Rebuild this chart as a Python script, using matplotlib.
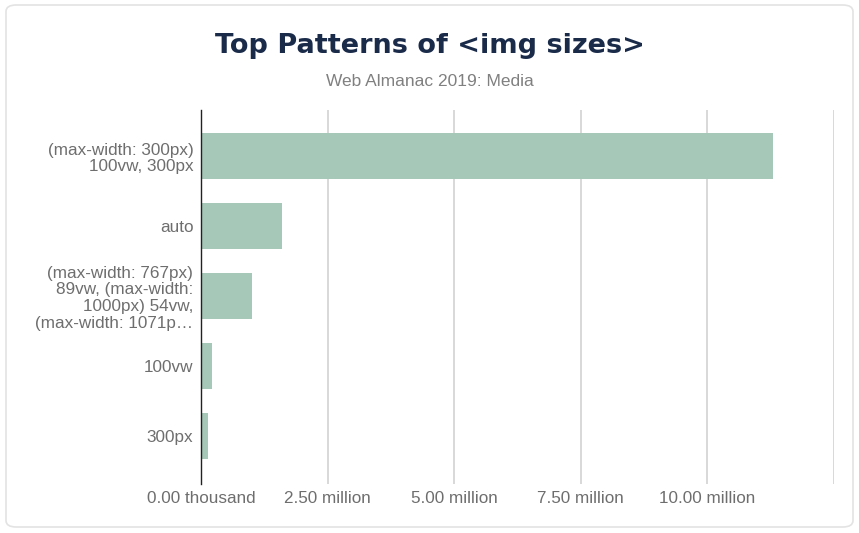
import matplotlib.pyplot as plt
from matplotlib.patches import FancyBboxPatch

plt.rcParams['font.family'] = ['Liberation Sans', 'DejaVu Sans']

labels = ['(max-width: 300px)\n100vw, 300px',
          'auto',
          '(max-width: 767px)\n89vw, (max-width:\n1000px) 54vw,\n(max-width: 1071p\u2026',
          '100vw',
          '300px']
counts = [11.29e6, 1.60e6, 1.01e6, 0.22e6, 0.14e6]
xticks = [0, 2.5e6, 5e6, 7.5e6, 10e6, 12.5e6]
xticklabels = ['0.00 thousand', '2.50 million', '5.00 million', '7.50 million', '10.00 million', '']

fig = plt.figure(figsize=(8.59, 5.33), dpi=100)

# card border
card = FancyBboxPatch((6 / 859, 6 / 533), 847 / 859, 522 / 533,
                      boxstyle='round,pad=0,rounding_size=0.012',
                      transform=fig.transFigure, facecolor='none',
                      edgecolor='#e3e3e3', linewidth=1.2, zorder=-1)
fig.patches.append(card)

ax = fig.add_axes([201 / 859, 49 / 533, 633 / 859, 374 / 533])
ax.set_facecolor('none')

y = list(range(len(labels)))
ax.barh(y, counts, height=0.66, color='#a5c8b8', zorder=2)

ax.set_xlim(0, 12.5e6)
ax.set_ylim(4.69, -0.66)
ax.set_xticks(xticks)
ax.set_xticklabels(xticklabels)
ax.set_yticks(y)
ax.set_yticklabels(labels, linespacing=1.15)
ax.tick_params(axis='both', length=0, colors='#6e6e6e', labelsize=12.3)
ax.tick_params(axis='x', pad=5)
ax.tick_params(axis='y', pad=5.5)
ax.grid(axis='x', color='#d6d6d6', linewidth=1.3, zorder=0)
for s in ['top', 'right', 'bottom']:
    ax.spines[s].set_visible(False)
ax.spines['left'].set_color('#222222')
ax.spines['left'].set_linewidth(1)
ax.spines['left'].set_zorder(3)

fig.text(0.5, 1 - 46 / 533, 'Top Patterns of <img sizes>', ha='center', va='center',
         fontsize=19.5, fontweight='heavy', color='#1a2b4a', family='DejaVu Sans')
fig.text(0.5, 1 - 82 / 533, 'Web Almanac 2019: Media', ha='center', va='center',
         fontsize=12.5, color='#808080')

fig.savefig('out.png', dpi=100)
